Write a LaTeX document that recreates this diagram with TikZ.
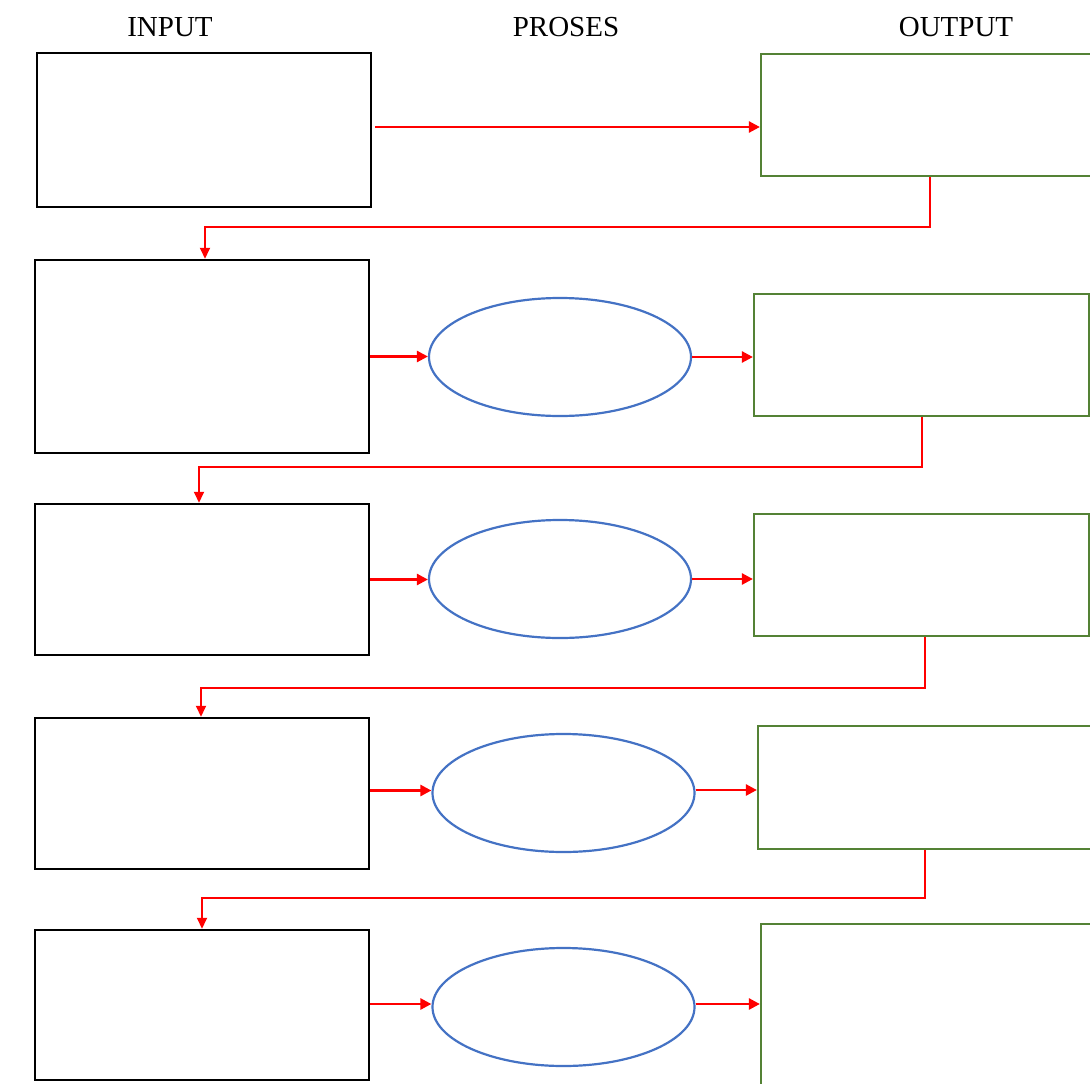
\documentclass[tikz,border=0pt]{standalone}
\usepackage{fontspec}
\setmainfont{Liberation Serif}
\usetikzlibrary{arrows.meta,shapes.geometric}
\definecolor{boxgreen}{HTML}{548235}
\definecolor{ellblue}{HTML}{4472C4}
\begin{document}
\begin{tikzpicture}[x=1pt,y=-1pt,
  title/.style={anchor=base,font=\fontsize{29}{32}\selectfont,inner sep=0pt},
  inbox/.style={draw=black,line width=2.5pt,rectangle,inner sep=0pt,fill=white},
  outbox/.style={draw=boxgreen,line width=2.2pt,rectangle,inner sep=0pt,fill=white},
  proc/.style={draw=ellblue,line width=2.2pt,ellipse,inner sep=0pt,minimum width=262pt,minimum height=118pt,fill=white},
  arr/.style={draw=red,line width=2.5pt,-{Triangle[length=11pt,width=11pt]}},
  conn/.style={draw=red,line width=2pt,-{Triangle[length=11pt,width=10pt]}}]
\useasboundingbox (0,0) rectangle (1090,1084);
\clip (0,0) rectangle (1090,1084);
% titles
\node[title] (tin) at (170,36) {INPUT};
\node[title] (tpr) at (566,36) {PROSES};
\node[title] (tout) at (956,36) {OUTPUT};
% row 1
\node[inbox,minimum width=334pt,minimum height=154pt] (i1) at (204,130) {};
\node[outbox,minimum width=340pt,minimum height=122pt] (o1) at (931,115) {};
% row 2
\node[inbox,minimum width=334pt,minimum height=193pt] (i2) at (202,356.5) {};
\node[proc] (e2) at (560,357) {};
\node[outbox,minimum width=335pt,minimum height=122pt] (o2) at (921.5,355) {};
% row 3
\node[inbox,minimum width=334pt,minimum height=151pt] (i3) at (202,579.5) {};
\node[proc] (e3) at (560,579) {};
\node[outbox,minimum width=335pt,minimum height=122pt] (o3) at (921.5,575) {};
% row 4
\node[inbox,minimum width=334pt,minimum height=151pt] (i4) at (202,793.5) {};
\node[proc] (e4) at (563.5,793) {};
\node[outbox,minimum width=334pt,minimum height=123pt] (o4) at (925,787.5) {};
% row 5
\node[inbox,minimum width=334pt,minimum height=150pt] (i5) at (202,1005) {};
\node[proc] (e5) at (563.5,1007) {};
\node[outbox,minimum width=340pt,minimum height=200pt] (o5) at (931,1024) {};
% horizontal arrows
\draw[arr] ([xshift=3pt,yshift=3pt]i1.east) coordinate (s1) -- (s1 -| o1.west);
\draw[arr] (i2.east) -- (i2.east -| e2.west);
\draw[arr] (e2.east) -- (e2.east -| o2.west);
\draw[arr] (i3.east) -- (i3.east -| e3.west);
\draw[arr] (e3.east) -- (e3.east -| o3.west);
\draw[arr] ([yshift=3pt]i4.east) coordinate (s4) -- (s4 -| e4.west);
\draw[arr] ([yshift=3pt]e4.east) coordinate (t4) -- (t4 -| o4.west);
\draw[arr] ([yshift=1pt]i5.east) coordinate (s5) -- (s5 -| e5.west);
\draw[arr] ([yshift=3pt]e5.east) coordinate (t5) -- (t5 -| o5.west);
% connectors between rows
\draw[conn] ([xshift=-1pt]o1.south) -- ++(0,50) -| ([xshift=3pt]i2.north);
\draw[conn] (o2.south) -- ++(0,50) -| ([xshift=-3pt]i3.north);
\draw[conn] ([xshift=3pt]o3.south) -- ++(0,51) -| ([xshift=-1pt]i4.north);
\draw[conn] (o4.south) -- ++(0,48) -| (i5.north);
\end{tikzpicture}
\end{document}
